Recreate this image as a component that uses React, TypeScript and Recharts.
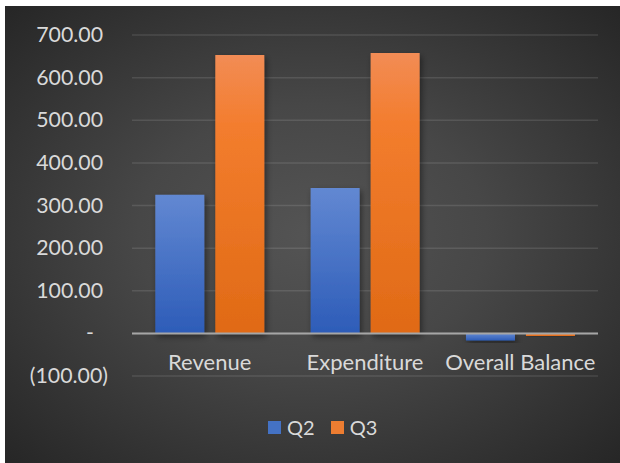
import { Bar, BarChart, CartesianGrid, Legend, ReferenceLine, XAxis, YAxis } from 'recharts';

const categories = ['Revenue', 'Expenditure', 'Overall Balance'];
const q2Values = [325, 341, -17];
const q3Values = [653, 658, -6];
const yTicks = [-100, 0, 100, 200, 300, 400, 500, 600, 700];

const data = categories.map((name, i) => ({ name, Q2: q2Values[i], Q3: q3Values[i] }));

const FONT = 'Lato, "Open Sans", sans-serif';
const TEXT = '#d9d9d9';

const YTick = ({ x, y, payload }: any) => {
  const v = payload.value as number;
  if (v === 0) {
    return (
      <text x={x - 42} y={y + 7} textAnchor="middle" fill={TEXT} fontSize={21.3} fontFamily={FONT}>
        -
      </text>
    );
  }
  if (v < 0) {
    return (
      <text x={x - 24} y={y + 7} textAnchor="end" fill={TEXT} fontSize={21.3} fontFamily={FONT}>
        {`(${Math.abs(v).toFixed(2)})`}
      </text>
    );
  }
  return (
    <text x={x - 29} y={y + 7} textAnchor="end" fill={TEXT} fontSize={21.3} fontFamily={FONT}>
      {v.toFixed(2)}
    </text>
  );
};

const XTick = ({ x, y, payload }: any) => (
  <text x={x} y={y - 6} textAnchor="middle" fill={TEXT} fontSize={22} fontFamily={FONT}>
    {payload.value}
  </text>
);

const LegendContent = () => (
  <div
    style={{
      display: 'flex',
      alignItems: 'center',
      height: 42,
      paddingLeft: 263,
      fontFamily: FONT,
      fontSize: 20,
      color: TEXT,
    }}
  >
    <span style={{ width: 13, height: 13, background: '#4472c4', marginRight: 6 }} />
    <span style={{ marginRight: 16 }}>Q2</span>
    <span style={{ width: 13, height: 13, background: '#ed7d31', marginRight: 6 }} />
    <span>Q3</span>
  </div>
);

export default function App() {
  return (
    <div style={{ position: 'absolute', left: 0, top: 0, width: 620, height: 463, background: '#fff' }}>
      <div
        style={{
          position: 'absolute',
          left: 5,
          top: 6,
          width: 615,
          height: 457,
          background: 'radial-gradient(ellipse at 50% 50%, #545454 0%, #474747 40%, #262626 100%)',
        }}
      >
        <BarChart
          width={615}
          height={457}
          data={data}
          margin={{ top: 29, right: 22, bottom: 0, left: 0 }}
          barCategoryGap="15%"
          barGap={11}
        >
          <defs>
            <linearGradient id="blueGrad" x1="0" y1="0" x2="0" y2="1">
              <stop offset="0%" stopColor="#6288d2" />
              <stop offset="100%" stopColor="#2d5cb8" />
            </linearGradient>
            <linearGradient id="orangeGrad" x1="0" y1="0" x2="0" y2="1">
              <stop offset="0%" stopColor="#f28c55" />
              <stop offset="25%" stopColor="#f37d2e" />
              <stop offset="100%" stopColor="#e06a15" />
            </linearGradient>
            <filter id="shadow" x="-20%" y="-20%" width="140%" height="140%">
              <feDropShadow dx="2" dy="3" stdDeviation="3" floodColor="#000" floodOpacity="0.45" />
            </filter>
          </defs>
          <CartesianGrid vertical={false} stroke="rgba(255,255,255,0.11)" strokeWidth={1.5} />
          <XAxis
            dataKey="name"
            axisLine={false}
            tickLine={false}
            tickSize={0}
            tickMargin={0}
            height={30}
            tick={<XTick />}
          />
          <YAxis
            domain={[-100, 700]}
            ticks={yTicks}
            axisLine={false}
            tickLine={false}
            tickSize={0}
            tickMargin={0}
            width={127}
            tick={<YTick />}
            interval={0}
          />
          <Bar dataKey="Q2" fill="url(#blueGrad)" filter="url(#shadow)" isAnimationActive={false} />
          <Bar dataKey="Q3" fill="url(#orangeGrad)" filter="url(#shadow)" isAnimationActive={false} />
          <ReferenceLine y={0} stroke="#a6a6a6" strokeWidth={2} />
          <Legend
            verticalAlign="bottom"
            height={57}
            content={<LegendContent />}
            wrapperStyle={{ left: 0, width: 615 }}
          />
        </BarChart>
      </div>
    </div>
  );
}
